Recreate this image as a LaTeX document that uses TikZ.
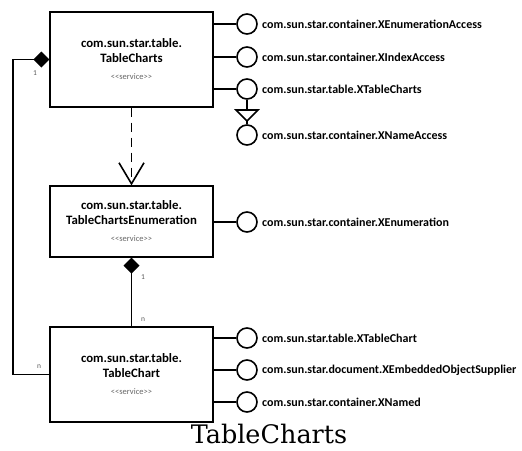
\documentclass[tikz,border=0pt]{standalone}
\usepackage{fontspec}
\setmainfont{Carlito}
\newfontfamily\capfont{DejaVu Serif}
\usetikzlibrary{arrows.meta}
\begin{document}
\begin{tikzpicture}[x=1pt,y=-1pt,
  svc/.style={draw, line width=1.3pt, minimum width=163pt, align=center, inner sep=0pt,
    font=\bfseries\fontsize{12.8}{14.5}\selectfont},
  iface/.style={circle, draw, line width=1.6pt, minimum size=20pt, inner sep=0pt},
  ilabel/.style={anchor=west, inner sep=0pt, font=\bfseries\fontsize{12}{14}\selectfont},
  conn/.style={line width=1.8pt},
  comp/.style={line width=1.8pt, {Diamond[length=16pt,width=16pt]}-},
  dep/.style={line width=1.8pt, dash pattern=on 9pt off 6pt, -{Straight Barb[length=21pt,width=25pt,line width=1.6pt]}},
  mult/.style={inner sep=0pt, text=black!65, font=\fontsize{7.5}{8}\selectfont}
]
\useasboundingbox (0,0) rectangle (522,450);

% service boxes
\node[svc, minimum height=95pt] (b1) at (131.5,59.5)
  {com.sun.star.table.\\TableCharts\\[3pt]{\mdseries\fontsize{8.5}{10}\selectfont\color{black!60}{<}{<}service{>}{>}}};
\node[svc, minimum height=71pt] (b2) at (131.5,221.5)
  {com.sun.star.table.\\TableChartsEnumeration\\[3pt]{\mdseries\fontsize{8.5}{10}\selectfont\color{black!60}{<}{<}service{>}{>}}};
\node[svc, minimum height=95pt] (b3) at (131.5,374.5)
  {com.sun.star.table.\\TableChart\\[3pt]{\mdseries\fontsize{8.5}{10}\selectfont\color{black!60}{<}{<}service{>}{>}}};

% interfaces of TableCharts
\node[iface] (i1) at (247,24) {};
\node[iface] (i2) at (247,57) {};
\node[iface] (i3) at (247,89) {};
\node[iface] (i4) at (247,135) {};
\node[ilabel] (l1) at (262,24) {com.sun.star.container.XEnumerationAccess};
\node[ilabel] (l2) at (262,57) {com.sun.star.container.XIndexAccess};
\node[ilabel] (l3) at (262,89) {com.sun.star.table.XTableCharts};
\node[ilabel] (l4) at (262,135) {com.sun.star.container.XNameAccess};
\draw[conn] (b1.east |- i1) -- (i1.west);
\draw[conn] (b1.east |- i2) -- (i2.west);
\draw[conn] (b1.east |- i3) -- (i3.west);
% inheritance triangle
\coordinate (t0) at (247,110);
\coordinate (tl) at (236,110);
\coordinate (tr) at (258,110);
\coordinate (ta) at (247,121);
\draw[conn] (i3.south) -- (t0);
\draw[line width=1.6pt, line join=miter] (tl) -- (tr) -- (ta) -- cycle;
\draw[line width=1.6pt] (ta) -- (i4.north);

% interface of TableChartsEnumeration
\node[iface] (i5) at (247,222) {};
\node[ilabel] (l5) at (262,222) {com.sun.star.container.XEnumeration};
\draw[conn] (b2.east |- i5) -- (i5.west);

% interfaces of TableChart
\node[iface] (i6) at (247,338) {};
\node[iface] (i7) at (247,370) {};
\node[iface] (i8) at (247,402) {};
\node[ilabel] (l6) at (262,338) {com.sun.star.table.XTableChart};
\node[ilabel] (l7) at (262,370) {com.sun.star.document.XEmbeddedObjectSupplier};
\node[ilabel] (l8) at (262,402) {com.sun.star.container.XNamed};
\draw[conn] (b3.east |- i6) -- (i6.west);
\draw[conn] (b3.east |- i7) -- (i7.west);
\draw[conn] (b3.east |- i8) -- (i8.west);

% dependency
\draw[dep] (b1.south) -- (b2.north);

% compositions
\coordinate (c1) at (13,59.5);
\draw[comp, line join=miter] (b1.west) -- (c1) |- (b3.west);
\draw[comp] (b2.south) -- (b3.north);
\node[mult] (m1) at (35,73) {1};
\node[mult] (m2) at (39,367) {n};
\node[mult] (m3) at (143,277) {1};
\node[mult] (m4) at (143,320) {n};

% caption
\node[inner sep=0pt, anchor=base, font=\capfont\fontsize{25.5}{28}\selectfont] (cap) at (269,443) {TableCharts};
\end{tikzpicture}
\end{document}
